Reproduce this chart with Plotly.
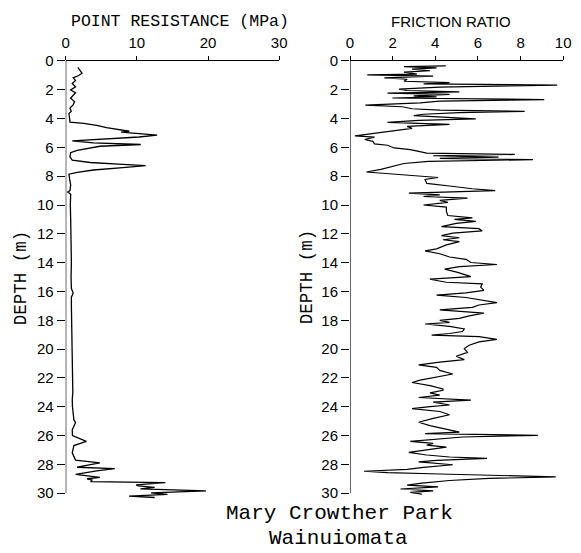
import plotly.graph_objects as go

# Cone penetration test, Mary Crowther Park, Wainuiomata
# Point resistance profile
qc_depth = [0.44, 0.67, 0.85, 1.01, 1.17, 1.35, 1.57, 1.80, 2.02, 2.21, 2.43, 2.59, 2.82, 3.04,
            3.27, 3.50, 3.65, 3.95, 4.24, 4.33, 4.47, 4.63, 4.79, 4.88, 4.94, 5.03, 5.15, 5.28,
            5.42, 5.55, 5.69, 5.80, 5.92, 6.05, 6.21, 6.37, 6.66, 6.89, 7.05, 7.18, 7.27, 7.41,
            7.57, 7.73, 7.86, 8.2, 8.6, 9.0, 9.1, 9.25, 10.0, 11.0, 12.0, 13.0, 14.0, 15.0, 15.8,
            16.1, 16.4, 17.0, 18.0, 19.0, 20.0, 21.0, 22.0, 23.0, 23.5, 24.0, 24.9, 25.1, 25.6,
            26.0, 26.4, 26.7, 27.2, 27.7, 27.9, 28.05, 28.2, 28.3, 28.45, 28.7, 28.8, 28.9, 29.0,
            29.1, 29.2, 29.27, 29.42, 29.5, 29.6, 29.7, 29.84, 29.98, 30.08, 30.2, 30.3]
qc_mpa = [1.70, 2.06, 2.29, 1.83, 1.06, 1.38, 0.92, 1.38, 0.69, 1.38, 0.92, 0.69, 1.24, 1.06,
          0.60, 0.78, 0.46, 0.50, 0.60, 2.52, 4.36, 5.73, 8.03, 8.94, 7.80, 9.86, 12.84, 10.32,
          5.73, 0.92, 3.90, 10.55, 4.82, 3.21, 1.61, 0.69, 0.60, 0.92, 3.44, 8.03, 11.24, 8.03,
          3.90, 1.61, 0.46, 0.55, 0.70, 0.60, 0.30, 0.70, 0.65, 0.70, 0.75, 0.75, 0.80, 0.75, 0.80,
          1.05, 0.80, 0.80, 0.85, 0.85, 0.85, 0.90, 0.95, 1.00, 0.92, 0.95, 1.15, 1.38, 0.92,
          0.95, 2.90, 1.15, 0.92, 1.38, 4.80, 3.00, 1.60, 6.90, 4.35, 1.40, 3.20, 4.80, 3.00,
          3.70, 3.50, 14.0, 9.9, 10.2, 12.5, 10.5, 19.7, 12.0, 14.3, 8.9, 12.5]

# Friction ratio profile
fr_depth = [0.34, 0.39, 0.48, 0.57, 0.68, 0.78, 0.91, 0.96, 1.05, 1.18, 1.27, 1.41, 1.50, 1.59,
            1.68, 1.82, 1.95, 2.05, 2.14, 2.23, 2.32, 2.43, 2.50, 2.57, 2.68, 2.79, 2.91, 3.07,
            3.18, 3.32, 3.41, 3.50, 3.59, 3.70, 3.79, 3.88, 4.02, 4.13, 4.27, 4.40, 4.54, 4.68,
            4.86, 5.04, 5.20, 5.29, 5.45, 5.58, 5.76, 5.85, 6.04, 6.15, 6.29, 6.40, 6.49, 6.58,
            6.67, 6.76, 6.85, 6.97, 7.12, 7.31, 7.53, 7.71, 7.99, 8.09, 8.23, 8.50, 8.68, 8.87,
            9.00, 9.09, 9.18, 9.30, 9.41, 9.52, 9.68, 9.82, 10.00, 10.14, 10.43, 10.73, 10.89,
            11.00, 11.14, 11.27, 11.50, 11.64, 11.80, 11.95, 12.13, 12.27, 12.41, 12.54, 12.77,
            13.04, 13.18, 13.38, 13.61, 13.77, 13.99, 14.13, 14.27, 14.45, 14.68, 14.97, 15.15,
            15.36, 15.47, 15.70, 15.92, 16.10, 16.26, 16.42, 16.60, 16.78, 16.94, 17.10, 17.28,
            17.42, 17.51, 17.69, 17.87, 18.01, 18.15, 18.26, 18.42, 18.60, 18.78, 18.92, 19.03,
            19.14, 19.32, 19.50, 19.73, 19.96, 20.23, 20.50, 20.73, 20.91, 21.09, 21.27, 21.48,
            21.73, 21.93, 22.16, 22.32, 22.54, 22.77, 22.86, 23.04, 23.20, 23.36, 23.54, 23.68,
            23.88, 23.99, 24.13, 24.33, 24.56, 24.81, 25.08, 25.31, 25.58, 25.76, 25.87, 25.99,
            26.10, 26.26, 26.40, 26.54, 26.67, 26.81, 26.99, 27.17, 27.35, 27.49, 27.58, 27.72,
            27.83, 28.03, 28.21, 28.35, 28.48, 28.57, 28.67, 28.76, 28.87, 28.98, 29.12, 29.30,
            29.44, 29.57, 29.71, 29.84, 29.95, 30.07]
fr_ratio = [4.49, 2.53, 4.06, 2.91, 3.75, 2.53, 3.14, 0.81, 3.90, 1.61, 2.68, 2.53, 4.67, 3.45,
            9.72, 4.21, 2.30, 2.68, 5.13, 1.76, 4.67, 2.99, 4.06, 1.99, 9.11, 4.21, 3.29, 0.72,
            2.45, 2.91, 4.21, 8.19, 5.13, 3.45, 2.99, 4.21, 5.90, 3.22, 1.76, 4.67, 2.68, 2.91,
            1.91, 1.00, 0.23, 1.15, 0.69, 1.07, 1.15, 1.76, 2.07, 2.83, 3.37, 3.60, 7.73, 3.90,
            6.97, 4.21, 8.58, 3.68, 2.53, 2.07, 1.45, 0.77, 3.14, 4.13, 3.52, 3.60, 4.67, 5.74,
            6.81, 4.21, 2.76, 4.21, 3.45, 5.51, 4.21, 4.59, 3.45, 4.52, 4.52, 4.59, 5.74,
            4.90, 5.90, 4.98, 4.29, 6.05, 6.20, 4.82, 4.29, 5.13, 4.36, 5.13, 4.52,
            4.06, 3.52, 4.21, 4.67, 5.44, 5.67, 6.89, 5.13, 4.44, 5.05, 5.67, 3.75,
            4.52, 6.20, 6.13, 6.28, 5.44, 4.06, 5.44, 6.20, 6.89, 6.05, 5.74, 4.21,
            5.59, 6.28, 5.59, 5.13, 4.21, 4.67, 3.52, 4.67, 5.36, 5.28, 4.67, 3.83,
            6.05, 6.89, 6.05, 5.59, 5.36, 5.51, 4.98, 5.36, 4.21, 3.22, 4.06, 4.21,
            4.82, 4.06, 3.29, 2.91, 3.75, 4.36, 4.36, 3.75, 4.21, 3.22, 5.67, 3.90,
            4.67, 3.75, 2.91, 4.21, 4.67, 3.90, 3.22, 3.75, 4.52, 5.13, 3.52, 8.81,
            5.28, 4.06, 2.83, 3.90, 3.60, 4.52, 3.75, 2.76, 3.60, 4.67, 6.43, 4.06,
            3.22, 4.82, 3.45, 2.68, 0.66, 1.76, 4.21, 6.81, 9.65, 6.51, 4.67, 3.37,
            2.68, 4.13, 2.37, 3.90, 2.83, 3.37]

depth_ticks = list(range(0, 31, 2))
qc_ticks = [0, 10, 20, 30]
fr_ticks = [0, 2, 4, 6, 8, 10]

W, H = 581, 553
TICK_FONT = dict(family="Liberation Sans, Arial, sans-serif", size=15, color="black")
MONO = "Liberation Mono, Courier New, monospace"
DEPTH_MAX = 30
DEPTH_RANGE = [30.45, 0]
y_domain = [1 - 500.6 / H, 1 - 53 / H]

fig = go.Figure()
fig.add_trace(go.Scatter(x=qc_mpa, y=qc_depth, mode="lines",
                         line=dict(color="black", width=1.3),
                         xaxis="x", yaxis="y", showlegend=False))
fig.add_trace(go.Scatter(x=fr_ratio, y=fr_depth, mode="lines",
                         line=dict(color="black", width=1.2),
                         xaxis="x2", yaxis="y2", showlegend=False))

xcommon = dict(side="top", showline=True, linecolor="black", linewidth=1.2,
               ticks="outside", ticklen=4, tickwidth=1.2, tickcolor="black",
               ticklabelstandoff=2,
               showgrid=False, zeroline=False, tickfont=TICK_FONT)
ycommon = dict(range=DEPTH_RANGE, tickvals=depth_ticks, showline=False,
               ticks="outside", ticklen=8, tickwidth=1.2, tickcolor="black",
               showgrid=False, zeroline=False, tickfont=TICK_FONT, domain=y_domain)

fig.update_layout(
    width=W, height=H,
    margin=dict(l=0, r=0, t=0, b=0),
    paper_bgcolor="white", plot_bgcolor="white",
    xaxis=dict(domain=[63 / W, 281 / W], range=[0, 30], tickvals=qc_ticks,
               anchor="y", **xcommon),
    yaxis=dict(anchor="x", **ycommon),
    xaxis2=dict(domain=[353.3 / W, 571 / W], range=[0, 10], tickvals=fr_ticks,
                anchor="y2", **xcommon),
    yaxis2=dict(anchor="x2", **ycommon),
)

# Depth axis spines, drawn from the surface to 30 m
for xr, yr in (("x", "y"), ("x2", "y2")):
    fig.add_shape(type="line", xref=xr, yref=yr, x0=0, x1=0, y0=0, y1=DEPTH_MAX,
                  line=dict(color="black", width=1.2))


def py(pix):
    return 1 - pix / H


annotations = [
    dict(text="POINT RESISTANCE (MPa)", x=180 / W, y=py(13),
         font=dict(family=MONO, size=16.5, color="black")),
    dict(text="FRICTION RATIO", x=456 / W, y=py(13),
         font=dict(family="Liberation Sans, Arial, sans-serif", size=15, color="black")),
    dict(text="DEPTH (m)", x=17 / W, y=py(274), textangle=-90,
         font=dict(family=MONO, size=17.5, color="black")),
    dict(text="DEPTH (m)", x=309 / W, y=py(273), textangle=-90,
         font=dict(family=MONO, size=17.5, color="black")),
    dict(text="Mary Crowther Park", x=343 / W, y=py(514.5),
         font=dict(family=MONO, size=21, color="black")),
    dict(text="Wainuiomata", x=342 / W, y=py(540),
         font=dict(family=MONO, size=21, color="black")),
]
for a in annotations:
    fig.add_annotation(xref="paper", yref="paper", showarrow=False,
                       xanchor="center", yanchor="middle", **a)

fig.write_html("out.html")
